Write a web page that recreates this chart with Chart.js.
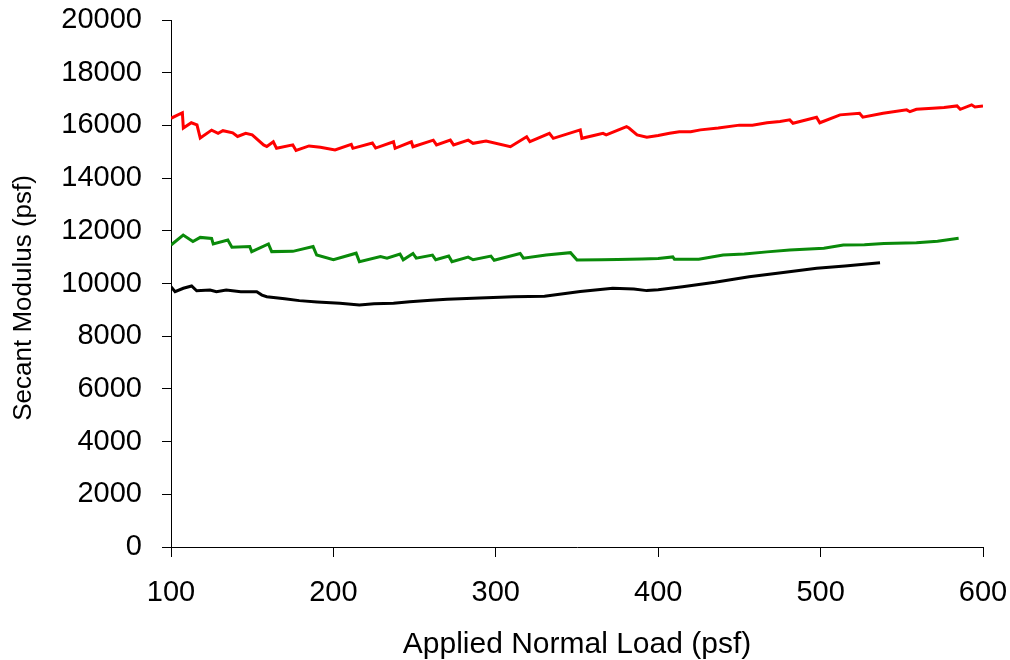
<!DOCTYPE html>
<html>
<head>
<meta charset="utf-8">
<script src="https://cdn.jsdelivr.net/npm/chart.js@4"></script>
<style>
  html, body { margin: 0; padding: 0; background: #fff; }
</style>
</head>
<body>
<canvas id="modulus-chart" width="1010" height="660"></canvas>
<script>
// Secant modulus vs applied normal load, three tests
const redLoad = [100, 107, 107.6, 112.5, 116, 118, 125, 129, 132, 138, 141, 146, 150, 157, 159, 163, 165, 175, 177, 185, 192, 201, 211, 212, 224, 226, 237, 238, 248, 249, 261.5, 263.5, 272, 274, 283, 286, 294, 309, 319, 321, 333, 335.4, 352, 353, 366, 368, 380.5, 382, 387, 393, 400, 407, 413, 420, 426, 437, 450, 458, 467, 475, 481, 483, 497.5, 499.5, 512, 524, 526, 538.5, 553, 555, 559, 569, 576, 584, 586, 593, 595, 600];
const redModulus = [16270, 16480, 15900, 16100, 16020, 15520, 15820, 15700, 15800, 15720, 15580, 15700, 15640, 15260, 15200, 15380, 15130, 15260, 15050, 15220, 15170, 15070, 15280, 15130, 15330, 15140, 15380, 15130, 15380, 15190, 15440, 15260, 15440, 15260, 15440, 15320, 15410, 15190, 15570, 15380, 15700, 15510, 15830, 15510, 15700, 15640, 15950, 15900, 15640, 15550, 15620, 15700, 15760, 15760, 15830, 15900, 16010, 16010, 16100, 16150, 16210, 16080, 16310, 16100, 16400, 16460, 16310, 16460, 16590, 16520, 16610, 16650, 16680, 16740, 16610, 16780, 16700, 16740];

const greenLoad = [100, 107.5, 113.5, 118, 125, 126, 135, 137.5, 148.5, 149.7, 160, 162, 175, 187.5, 189.7, 200, 214, 216, 229, 233, 241, 243, 249, 251, 261, 263, 271, 273, 283, 286, 297, 299, 315, 317, 331, 346, 350, 365, 375, 390, 400, 409, 410, 425, 440, 453, 467, 481, 502, 514, 527, 539, 559, 572, 585];
const greenModulus = [11460, 11840, 11590, 11750, 11710, 11500, 11650, 11380, 11400, 11210, 11500, 11210, 11220, 11400, 11080, 10900, 11150, 10830, 11020, 10960, 11120, 10900, 11140, 10960, 11080, 10900, 11040, 10830, 11000, 10900, 11040, 10880, 11140, 10960, 11080, 11170, 10890, 10900, 10910, 10930, 10950, 11010, 10920, 10920, 11080, 11120, 11200, 11270, 11340, 11460, 11470, 11520, 11550, 11600, 11715];

const blackLoad = [100, 102.5, 107.6, 112.7, 115.8, 124, 128, 134, 143, 152.8, 156, 159, 170, 179, 190, 204, 216, 225, 237, 247, 260, 270, 290, 311, 330, 352, 372, 385, 393, 400, 415, 435, 456, 477, 497.6, 515, 536.6];
const blackModulus = [9880, 9690, 9820, 9905, 9725, 9755, 9690, 9755, 9690, 9690, 9560, 9500, 9420, 9350, 9300, 9250, 9185, 9230, 9250, 9310, 9360, 9400, 9450, 9500, 9520, 9700, 9820, 9790, 9730, 9760, 9880, 10050, 10260, 10420, 10575, 10660, 10790];

const xTicks = [100, 200, 300, 400, 500, 600];
const yTicks = [0, 2000, 4000, 6000, 8000, 10000, 12000, 14000, 16000, 18000, 20000];

function toPoints(xs, ys) {
    return xs.map((x, i) => ({ x: x, y: ys[i] }));
}

const fontFamily = '"Liberation Sans", Arial, sans-serif';
const ctx = document.getElementById('modulus-chart').getContext('2d');

const chart = new Chart(ctx, {
    type: 'line',
    data: {
        datasets: [
            { data: toPoints(redLoad, redModulus), borderColor: '#ff0000' },
            { data: toPoints(greenLoad, greenModulus), borderColor: '#0a8a0a' },
            { data: toPoints(blackLoad, blackModulus), borderColor: '#000000' }
        ]
    },
    options: {
        responsive: false,
        animation: false,
        parsing: false,
        layout: { padding: { left: 0, right: 27, top: 20, bottom: 0 } },
        elements: {
            line: { borderWidth: 3, tension: 0 },
            point: { radius: 0 }
        },
        plugins: {
            legend: { display: false },
            tooltip: { enabled: false }
        },
        scales: {
            x: {
                type: 'linear',
                min: xTicks[0],
                max: xTicks[xTicks.length - 1],
                afterBuildTicks: s => { s.ticks = xTicks.map(v => ({ value: v })); },
                afterFit: s => {
                    s.height = 113;
                    s.paddingLeft = 0;
                    s.paddingRight = 0;
                },
                ticks: {
                    color: '#000',
                    padding: 19,
                    font: { family: fontFamily, size: 29 },
                    callback: v => v
                },
                grid: { drawOnChartArea: false, drawTicks: true, tickLength: 10, color: '#000' },
                border: { display: true, color: '#000', width: 1 },
                title: {
                    display: true,
                    text: 'Applied Normal Load (psf)',
                    color: '#000',
                    padding: 0,
                    font: { family: fontFamily, size: 30, lineHeight: 1 }
                }
            },
            y: {
                min: yTicks[0],
                max: yTicks[yTicks.length - 1],
                afterBuildTicks: s => { s.ticks = yTicks.map(v => ({ value: v })); },
                afterFit: s => {
                    s.width = 171;
                    s.paddingTop = 0;
                    s.paddingBottom = 0;
                },
                ticks: {
                    color: '#000',
                    padding: 20,
                    font: { family: fontFamily, size: 29 },
                    callback: v => v
                },
                grid: { drawOnChartArea: false, drawTicks: true, tickLength: 9, color: '#000' },
                border: { display: true, color: '#000', width: 1 },
                title: {
                    display: true,
                    // trailing spaces nudge the title a bit below the axis centre, as in the original
                    text: 'Secant Modulus (psf)    ',
                    color: '#000',
                    padding: { top: 11, bottom: 0 },
                    font: { family: fontFamily, size: 26, lineHeight: 1 }
                }
            }
        }
    }
});
</script>
</body>
</html>
